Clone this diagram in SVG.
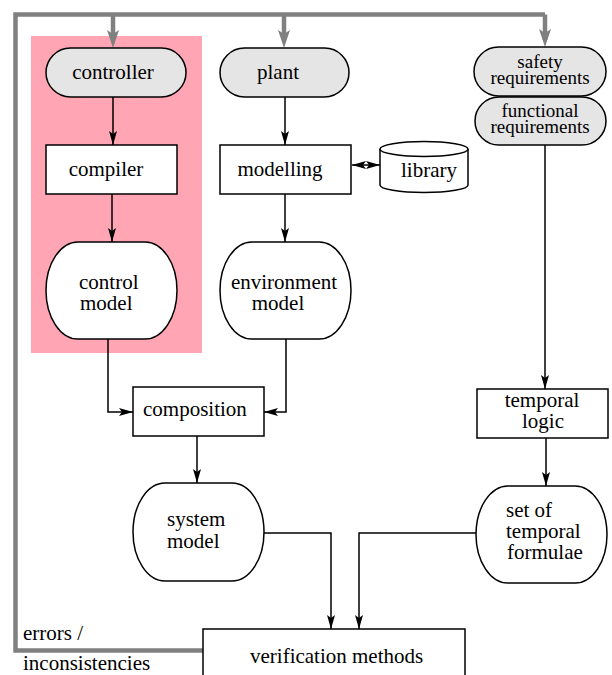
<svg xmlns="http://www.w3.org/2000/svg" width="612" height="675" viewBox="0 0 612 675" font-family="Liberation Serif, Times New Roman, Times, serif">
<style>
text{font-size:21px;fill:#000}
.c{text-anchor:middle}
.t{font-size:19px}
.n{stroke:#000;stroke-width:1.5;fill:#fff}
.g{fill:#e5e5e5}
.e{fill:none;stroke:#000;stroke-width:1.5}
.fb{fill:none;stroke:#808080;stroke-width:4.5}
</style>
<defs>
<marker id="ah" markerUnits="userSpaceOnUse" viewBox="0 0 14 8" refX="14" refY="4" markerWidth="14" markerHeight="8" orient="auto-start-reverse">
<path d="M0,0 L14,4 L0,8 L3,4 z" fill="#000"/>
</marker>
</defs>
<rect x="31" y="36" width="171" height="317" fill="#ffa5b4"/>
<g id="feedback">
<path class="fb" d="M205,650.5 H15.5 V14.5 H545"/>
<path class="fb" d="M113,14.5 V40" />
<path class="fb" d="M284,14.5 V40" />
<path class="fb" d="M545,14.5 V40" />
<path d="M107,30 L113,48 L119,30 L113,34 z" fill="#808080"/>
<path d="M278,30 L284,48 L290,30 L284,34 z" fill="#808080"/>
<path d="M539,29 L545,47 L551,29 L545,33 z" fill="#808080"/>
</g>
<g id="connectors">
<path class="e" d="M113,97 V145" marker-end="url(#ah)"/>
<path class="e" d="M112,194 V242" marker-end="url(#ah)"/>
<path class="e" d="M285,97 V145" marker-end="url(#ah)"/>
<path class="e" d="M285,194 V242" marker-end="url(#ah)"/>
<path class="e" d="M352,165 H380" marker-start="url(#ah)" marker-end="url(#ah)"/>
<path class="e" d="M108,339 V412 H133" marker-end="url(#ah)"/>
<path class="e" d="M286,339 V412 H264" marker-end="url(#ah)"/>
<path class="e" d="M197,436 V483" marker-end="url(#ah)"/>
<path class="e" d="M545,145 V389" marker-end="url(#ah)"/>
<path class="e" d="M546,438 V486" marker-end="url(#ah)"/>
<path class="e" d="M264,533 H331 V629" marker-end="url(#ah)"/>
<path class="e" d="M476,533 H359 V629" marker-end="url(#ah)"/>
</g>
<g id="controller">
<rect class="n g" x="46" y="48" width="140" height="49" rx="24.5" ry="24.5"/>
<text class="c" x="113" y="79">controller</text>
</g>
<g id="plant">
<rect class="n g" x="220" y="48" width="129" height="49" rx="24.5" ry="24.5"/>
<text class="c" x="278" y="79">plant</text>
</g>
<g id="safety">
<rect class="n g" x="474" y="47" width="132" height="49" rx="24.5" ry="24.5"/>
<text class="c t" x="540" y="68">safety</text>
<text class="c t" x="540" y="84">requirements</text>
</g>
<g id="functional">
<rect class="n g" x="475" y="97" width="131" height="48" rx="24" ry="24"/>
<text class="c t" x="540" y="117">functional</text>
<text class="c t" x="540" y="133">requirements</text>
</g>
<g id="compiler">
<rect class="n" x="46" y="145" width="131" height="49"/>
<text class="c" x="106" y="176">compiler</text>
</g>
<g id="modelling">
<rect class="n" x="220" y="145" width="131" height="49"/>
<text class="c" x="280" y="176">modelling</text>
</g>
<g id="library">
<path class="n" d="M380,149 V185 A44,7.5 0 0 0 468,185 V149"/>
<ellipse class="n" cx="424" cy="149" rx="44" ry="7.5"/>
<text class="c" x="429" y="177">library</text>
</g>
<g id="control-model">
<rect class="n" x="46" y="242" width="131" height="97" rx="32" ry="48.5"/>
<text x="79" y="289">control</text>
<text x="80" y="310">model</text>
</g>
<g id="environment-model">
<rect class="n" x="220" y="242" width="131" height="97" rx="32" ry="48.5"/>
<text class="c" x="284" y="289">environment</text>
<text class="c" x="278" y="310">model</text>
</g>
<g id="composition">
<rect class="n" x="133" y="387" width="131" height="49"/>
<text x="143" y="416">composition</text>
</g>
<g id="temporal-logic">
<rect class="n" x="477" y="389" width="131" height="49"/>
<text class="c" x="542" y="407">temporal</text>
<text class="c" x="543" y="428">logic</text>
</g>
<g id="system-model">
<rect class="n" x="133" y="483" width="131" height="98" rx="32" ry="49"/>
<text x="167" y="526">system</text>
<text x="167" y="548">model</text>
</g>
<g id="set-of-temporal-formulae">
<rect class="n" x="476" y="486" width="131" height="97" rx="32" ry="48.5"/>
<text x="506" y="517">set of</text>
<text x="506" y="538">temporal</text>
<text x="507" y="559">formulae</text>
</g>
<g id="verification-methods">
<rect class="n" x="203" y="629" width="262" height="60"/>
<text x="250" y="663">verification methods</text>
</g>
<g id="errors-label">
<text x="23" y="640">errors /</text>
<text x="23" y="670">inconsistencies</text>
</g>
</svg>
